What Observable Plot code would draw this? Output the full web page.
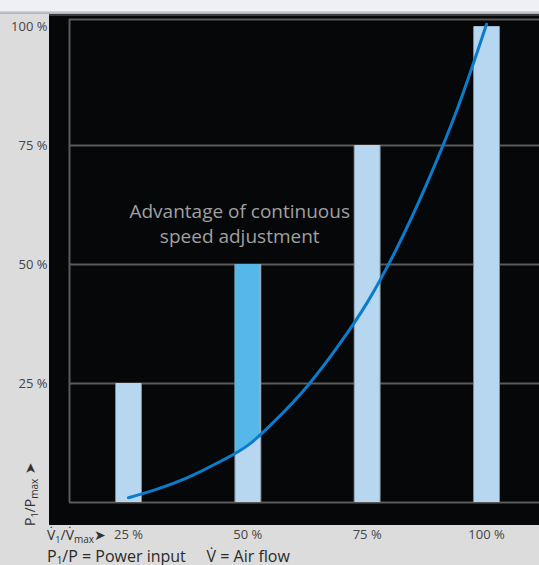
<!DOCTYPE html>
<html>
<head>
<meta charset="utf-8">
<script src="https://cdn.jsdelivr.net/npm/d3@7"></script>
<script src="https://cdn.jsdelivr.net/npm/@observablehq/plot@0.6"></script>
<style>
  html, body { margin: 0; padding: 0; }
  body { width: 539px; height: 565px; overflow: hidden; background: #dcdcdc; position: relative;
         font-family: "Open Sans", "DejaVu Sans", sans-serif; }
  #top { position: absolute; left: 0; top: 0; width: 539px; height: 11px; background: #eef0f5; }
  #topshade { position: absolute; left: 0; top: 11px; width: 539px; height: 3px; background: linear-gradient(#d6d9e0, #a9acb2); }
  #panel { position: absolute; left: 49px; top: 14px; width: 490px; height: 511px; background: #060709;
           border-top: 2px solid #3a3a3a; box-sizing: border-box; }
  #chart { position: absolute; left: 0; top: 0; }
  #caption { position: absolute; left: 47px; top: 547px; font-size: 16px; line-height: 18px; color: #2a2a2a; white-space: pre; }
  #caption sub { font-size: 10px; vertical-align: 0; position: relative; top: 2px; }
</style>
</head>
<body>
<div id="top"></div>
<div id="topshade"></div>
<div id="panel"></div>
<div id="chart"></div>
<div id="caption">P<sub>1</sub>/P = Power input     V&#x307; = Air flow</div>
<script>
// Stepped control: air flow stages (% of max) and the power each stage draws
const flowStages = [25, 50, 75, 100];
const powerStages = [25, 50, 75, 100];
// Stage whose saving is highlighted
const highlightStage = 50;

// Continuous speed adjustment: power vs. air flow
const curveFlow  = [25, 31, 37.5, 44, 50, 56, 62.5, 69, 75, 81, 87.5, 94, 100];
const curvePower = [1, 2.8, 5.3, 8.5, 12, 17.5, 24.5, 33, 42, 53, 67, 83, 100.5];

// Axis ticks and gridlines
const tickValues = [25, 50, 75, 100];
const gridValues = [0, 25, 50, 75];

const xDomain = [12.64, 111.1];
const yDomain = [0, 101.5];

const stages = flowStages.map((f, i) => ({flow: f, power: powerStages[i]}));
const curve = curveFlow.map((f, i) => ({flow: f, power: curvePower[i]}));

const colors = {light: "#b6d7ef", bright: "#55b8e8", line: "#0a7ccc", grid: "#5b5b5b", edge: "#7f8c96", note: "#a0a0a0"};
const barWidth = 25;

// Highlighted part of the 50 % bar: between the stage level and the curve
function savingSegment(index, scales) {
  const g = d3.create("svg:g");
  const id = "clip-stage";
  const cx = scales.x(highlightStage);
  g.append("clipPath").attr("id", id)
    .append("rect")
    .attr("x", cx - barWidth / 2).attr("width", barWidth)
    .attr("y", scales.y(highlightStage)).attr("height", scales.y(0) - scales.y(highlightStage));
  const area = d3.area()
    .x(d => scales.x(d.flow))
    .y0(scales.y(highlightStage))
    .y1(d => scales.y(d.power))
    .curve(d3.curveMonotoneX);
  g.append("path")
    .attr("clip-path", `url(#${id})`)
    .attr("fill", colors.bright)
    .attr("d", area(curve));
  return g.node();
}

const chart = Plot.plot({
  width: 539,
  height: 565,
  marginLeft: 69,
  marginRight: 0,
  marginTop: 19,
  marginBottom: 63,
  style: {background: "transparent", color: "#454545", fontSize: "13px", fontFamily: "'Open Sans', 'DejaVu Sans', sans-serif"},
  x: {domain: xDomain, ticks: tickValues, tickFormat: d => d + " %", tickSize: 0, tickPadding: 27, label: null},
  y: {domain: yDomain, ticks: tickValues, tickFormat: d => d + " %", tickSize: 0, tickPadding: 22, label: null},
  marks: [
    Plot.ruleY(gridValues, {stroke: colors.grid, strokeWidth: 2}),
    Plot.ruleY([yDomain[1]], {stroke: colors.grid, strokeWidth: 2}),
    Plot.ruleX([xDomain[0]], {stroke: colors.grid, strokeWidth: 2}),
    Plot.ruleX(stages, {x: "flow", y1: 0, y2: "power", stroke: colors.edge, strokeWidth: barWidth + 2}),
    Plot.ruleX(stages, {x: "flow", y1: 0, y2: "power", stroke: colors.light, strokeWidth: barWidth}),
    savingSegment,
    Plot.line(curve, {x: "flow", y: "power", stroke: colors.line, strokeWidth: 3, curve: "monotone-x"}),
    Plot.text(["Advantage of continuous\nspeed adjustment"], {
      x: 48.3, y: 58.8, text: d => d, fill: colors.note, fontSize: 19, lineHeight: 1.3, textAnchor: "middle"
    })
  ]
});

const svg = d3.select(chart);
// Axis titles with subscripts
const yTitle = svg.append("text")
  .attr("transform", "translate(35,526) rotate(-90)")
  .attr("text-anchor", "start")
  .attr("fill", "#333").attr("font-size", 14);
yTitle.append("tspan").text("P");
yTitle.append("tspan").attr("font-size", 9).attr("dy", 3).text("1");
yTitle.append("tspan").attr("dy", -3).text("/P");
yTitle.append("tspan").attr("font-size", 10).attr("dy", 3).text("max");
yTitle.append("tspan").attr("dy", -3).attr("font-family", "DejaVu Sans").text(" \u27A4");

const xTitle = svg.append("text")
  .attr("x", 47).attr("y", 540)
  .attr("text-anchor", "start")
  .attr("fill", "#333").attr("font-size", 14);
xTitle.append("tspan").text("V\u0307");
xTitle.append("tspan").attr("font-size", 9).attr("dy", 3).text("1");
xTitle.append("tspan").attr("dy", -3).text("/V\u0307");
xTitle.append("tspan").attr("font-size", 10).attr("dy", 3).text("max");
xTitle.append("tspan").attr("dy", -3).attr("font-family", "DejaVu Sans").text("\u27A4");

document.getElementById("chart").appendChild(chart);
</script>
</body>
</html>
